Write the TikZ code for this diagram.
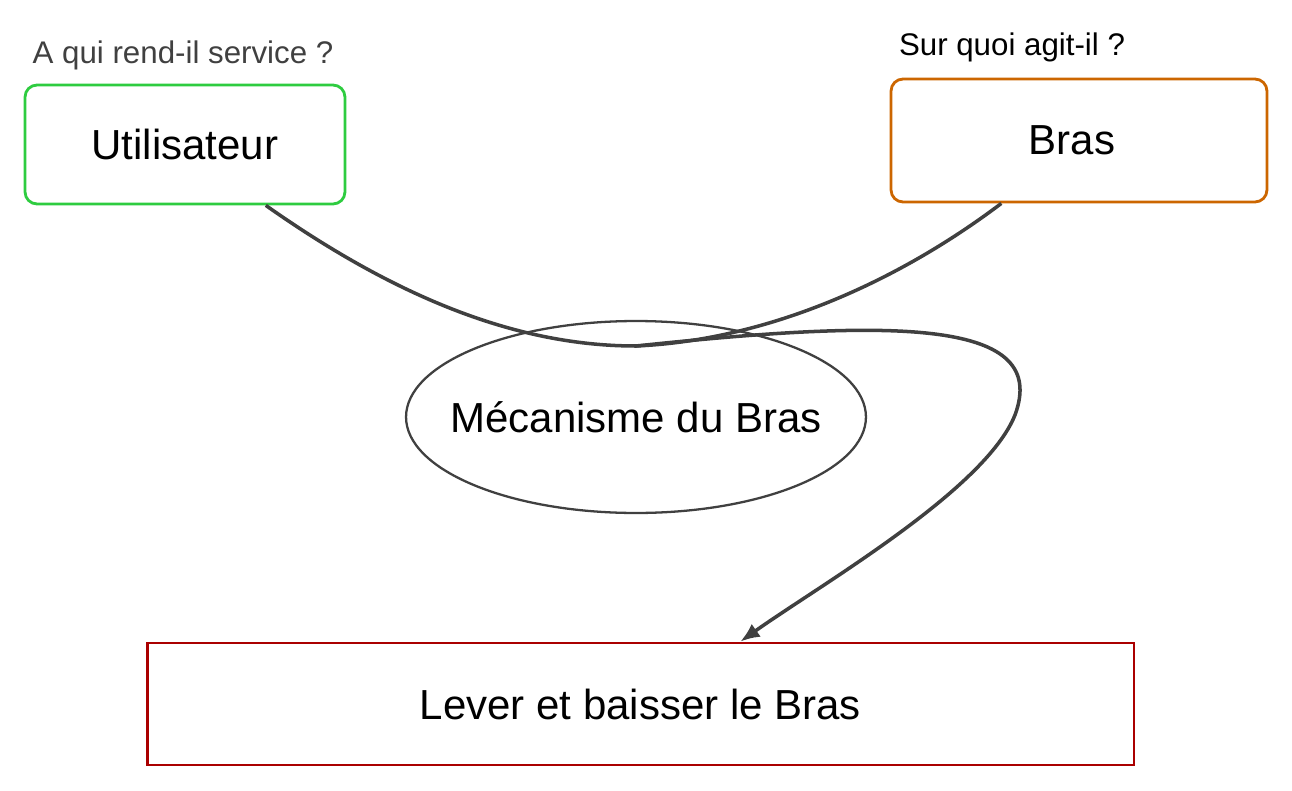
\documentclass[tikz,border=0pt]{standalone}
\usepackage{fontspec}
\setmainfont{Liberation Sans}
\usetikzlibrary{shapes.geometric,arrows.meta}
\definecolor{vert}{RGB}{46,204,64}
\definecolor{orange}{RGB}{204,102,0}
\definecolor{rouge}{RGB}{170,0,0}
\definecolor{trait}{RGB}{64,64,64}
\begin{document}
\begin{tikzpicture}[x=0.02cm,y=-0.02cm]
\tikzstyle boite=[draw,rectangle,rounded corners=0.24cm,line width=1.6pt,inner sep=0pt,font=\fontsize{23.9}{28}\selectfont]
\tikzstyle question=[inner sep=0pt,font=\fontsize{17.8}{21}\selectfont]
\tikzstyle lien=[draw=trait,line width=2pt]
\useasboundingbox (0,0) rectangle (1292,791);
% les deux acteurs
\node[boite,draw=vert,minimum width=6.4cm,minimum height=2.38cm] (user) at (185,144.5) {Utilisateur};
\node[boite,draw=orange,minimum width=7.52cm,minimum height=2.46cm] (bras) at (1079,140.5) {\hspace*{-0.28cm}Bras};
\node[question,text=trait] (qui) at (183,55) {A qui rend-il service ?};
\node[question] (quoi) at (1012,47) {Sur quoi agit-il ?};
% le produit
\node[ellipse,draw=trait,line width=1.3pt,minimum width=9.2cm,minimum height=3.84cm,inner sep=0pt,font=\fontsize{23.9}{28}\selectfont] (meca) at (636,417) {\makebox[0pt]{M\'ecanisme du Bras}};
% la fonction
\node[boite,rounded corners=0pt,draw=rouge,minimum width=19.74cm,minimum height=2.44cm] (action) at (640.5,704) {Lever et baisser le Bras};
\coordinate (join) at (636,346);
\draw[lien] (user.-37) .. controls (400,300) and (520,346) .. (join);
\draw[lien] (bras.-141.6) .. controls (900,280) and (770,340) .. (join);
\draw[lien,-{Latex[length=11pt,width=9pt]}] (join) .. controls (900,318) and (1050,320) .. (1015,415) .. controls (985,490) and (820,585) .. (action.32);
%\draw[help lines] (0,0) grid[step=1cm] (1292,791);
\end{tikzpicture}
\end{document}
